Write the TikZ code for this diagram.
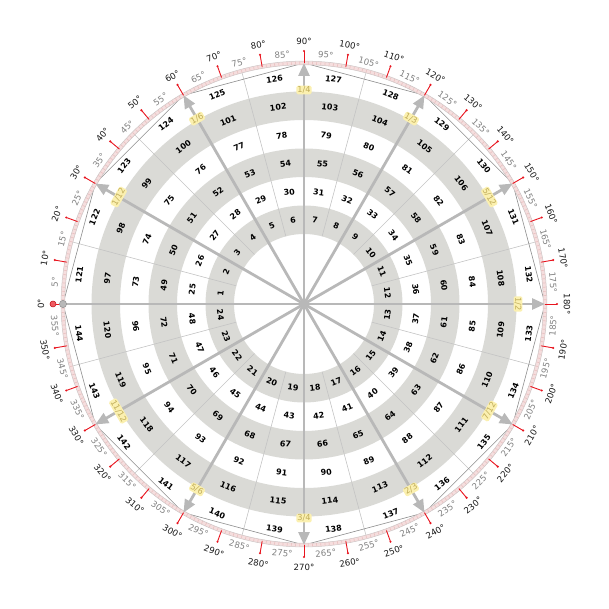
\documentclass[tikz,border=0pt]{standalone}
\usepackage{fontspec}
\setmainfont{DejaVu Sans}
\usetikzlibrary{arrows.meta}
\definecolor{ringgrey}{HTML}{DADAD6}
\definecolor{divline}{HTML}{C4C4C4}
\definecolor{spokecol}{HTML}{B8B8B8}
\definecolor{polycol}{HTML}{8C8C8C}
\definecolor{bandpink}{HTML}{F5DEDE}
\definecolor{banddash}{HTML}{EBC3C3}
\definecolor{bandedge}{HTML}{CDC4C4}
\definecolor{tickred}{HTML}{E8141E}
\definecolor{fracbg}{HTML}{FBF0B0}
\definecolor{fractext}{HTML}{C0AC58}
\definecolor{greylab}{HTML}{808080}
\tikzset{
  celllab/.style={font=\fontsize{8}{9}\selectfont\bfseries, text=black, inner sep=0pt},
  deglab/.style={font=\fontsize{8.6}{10}\selectfont, text=black!90, inner sep=0pt},
  halflab/.style={font=\fontsize{8.6}{10}\selectfont, text=greylab, inner sep=0pt},
  fraclab/.style={font=\fontsize{8.2}{9}\selectfont, text=fractext, fill=fracbg, rounded corners=1.5pt, inner sep=1pt},
  spoke/.style={draw=spokecol, line width=2.8pt},
  divider/.style={draw=divline, line width=0.6pt},
  polyline/.style={draw=polycol, line width=0.6pt},
  redtick/.style={draw=tickred, line width=0.9pt},
}
\begin{document}
\begin{tikzpicture}[x=1pt,y=1pt]
\useasboundingbox (-304,-305) rectangle (305,304);
\coordinate (C) at (0,0);
% grey rings
\foreach \k in {0,2,4}{
  \pgfmathsetmacro\ri{70+28.5*\k}
  \pgfmathsetmacro\ro{98.5+28.5*\k}
  \fill[ringgrey,even odd rule] (C) circle[radius=\ro pt] (C) circle[radius=\ri pt];
}
% thin dividers
\foreach \m in {0,...,11}{
  \pgfmathsetmacro\ph{165-30*\m}
  \draw[divider] (\ph:70pt) -- (\ph:241pt);
}
% dodecagon
\draw[polyline] (180:241pt) \foreach \m in {1,...,11}{ -- ({180-30*\m}:241pt) } -- cycle;
% outer band
\draw[bandpink, line width=3.6pt] (C) circle[radius=241pt];
\foreach \a in {0,...,359} \draw[banddash, line width=0.7pt] (\a:239.5pt) -- (\a:242.5pt);
\draw[bandedge, line width=0.5pt] (C) circle[radius=239.2pt] (C) circle[radius=242.9pt];
% red ticks and degree labels
\foreach \m in {0,...,35}{
  \pgfmathtruncatemacro\th{10*\m}
  \pgfmathsetmacro\ph{180-\th}
  \pgfmathsetmacro\rot{\th<180.5 ? 90-\th : 270-\th}
  \draw[redtick] (\ph:241pt) -- (\ph:253pt);
  \fill[tickred] (\ph:253pt) circle[radius=1.2pt];
  \node[deglab, rotate=\rot] (d\th) at (\ph:263pt) {\th°};
}
\foreach \m in {0,...,35}{
  \pgfmathtruncatemacro\th{10*\m+5}
  \pgfmathsetmacro\ph{180-\th}
  \pgfmathsetmacro\rot{\th<180.5 ? 90-\th : 270-\th}
  \node[halflab, rotate=\rot] (h\th) at (\ph:250pt) {\th°};
}
% spokes
\coordinate (t0) at (180:241pt);
\draw[spoke] (C) -- (t0);
\foreach \m/\a/\b in {1/1/12,2/1/6,3/1/4,4/1/3,5/5/12,6/1/2,7/7/12,8/2/3,9/3/4,10/5/6,11/11/12}{
  \pgfmathsetmacro\th{30*\m}
  \pgfmathsetmacro\ph{180-\th}
  \coordinate (t\m) at (\ph:241pt);
  \draw[spoke, -{Triangle[length=13pt,width=11pt]}] (C) -- (t\m);
}
\filldraw[fill=spokecol, draw=spokecol!80!black, line width=0.5pt] (t0) circle[radius=3.6pt];
\filldraw[fill=tickred!70!white, draw=tickred!80!black, line width=0.5pt] (180:251pt) circle[radius=3pt];
% cells
\foreach \k in {0,...,5}{
  \foreach \j in {0,...,23}{
    \pgfmathtruncatemacro\n{24*\k+\j+1}
    \pgfmathsetmacro\th{15*\j+7.5}
    \pgfmathsetmacro\ph{180-\th}
    \pgfmathsetmacro\rr{84.25+28.5*\k}
    \pgfmathsetmacro\rot{\th<180 ? 90-\th : 270-\th}
    \node[celllab, rotate=\rot] (n\n) at (\ph:\rr pt) {\n};
  }
}
% fraction labels
\foreach \m/\a/\b in {1/1/12,2/1/6,3/1/4,4/1/3,5/5/12,6/1/2,7/7/12,8/2/3,9/3/4,10/5/6,11/11/12}{
  \pgfmathsetmacro\th{30*\m}
  \pgfmathsetmacro\ph{180-\th}
  \pgfmathsetmacro\rot{\th<180.5 ? 90-\th : 270-\th}
  \node[fraclab, rotate=\rot] (f\m) at (\ph:214pt) {\a/\b};
}
\end{tikzpicture}
\end{document}
